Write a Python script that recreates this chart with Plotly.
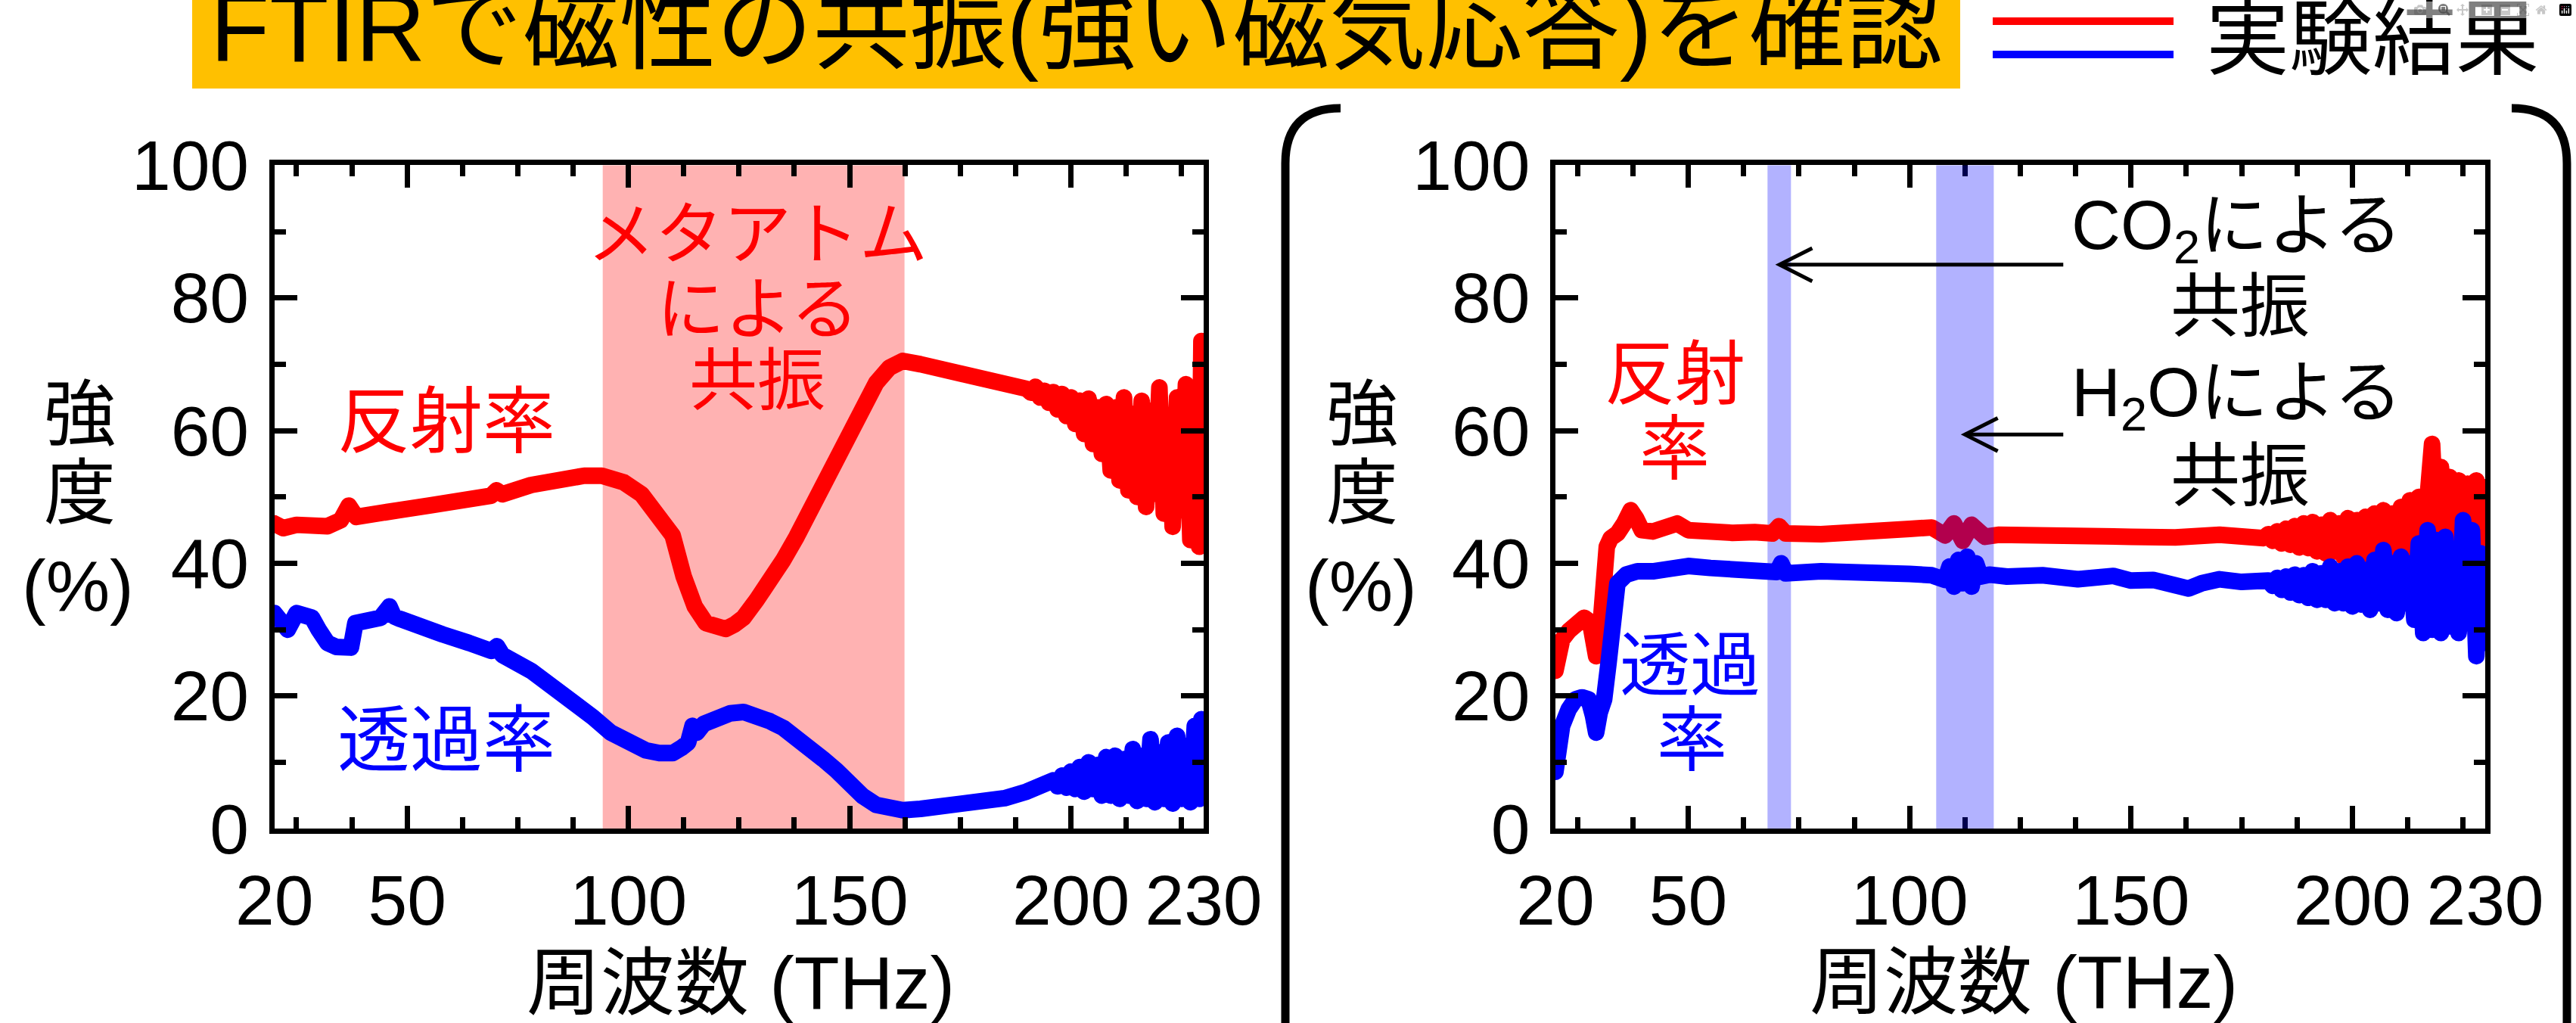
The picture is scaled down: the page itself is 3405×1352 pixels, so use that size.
import plotly.graph_objects as go

W, H = 3405, 1352


def px(x):
    return x / W


def py(y):
    return 1 - y / H


# ---------------- data ----------------
# axis ticks
x_tickvals = [20, 50, 100, 150, 200, 230]
x_ticktext = ["20", "50", "100", "150", "200", "230"]
y_tickvals = [0, 20, 40, 60, 80, 100]

# Left panel: reflectance (反射率)
LR_f = [20, 22, 25, 29, 32, 35, 36.8, 38.5, 42, 48,
        55, 62, 69, 70.2, 71.5, 78, 85, 90, 94, 99,
        103, 107, 110, 112.5, 115, 117.5, 120, 122, 124, 126,
        129, 132, 135, 138, 141, 144, 147, 150, 153, 156,
        159, 162, 166, 170, 175, 180, 185, 189]
LR_v = [46, 45.3, 45.8, 46, 45.6, 46.5, 48.7, 47, 47.5, 48,
        48.7, 49.5, 50.2, 51, 50.4, 51.8, 52.8, 53.2, 53.2, 52.2,
        50.4, 47, 44.2, 38, 33.5, 31.0, 30.2, 30.1, 30.8, 31.8,
        34.5, 37.3, 40.5, 44, 48, 52.5, 56.5, 60.5, 64, 67.2,
        69.5, 70.5, 70, 69.4, 68.7, 68.1, 67, 66.3]
LR_noise_f = [190, 191, 192, 193, 194, 195, 196, 197, 198, 199,
              200, 201, 202, 203, 204, 205, 206, 207, 208, 209,
              210, 211, 212, 213, 214, 215, 216, 217, 218, 219,
              220, 221, 222, 223, 224, 225, 226, 227, 228, 229,
              229.5, 230]
LR_noise_v = [66.3, 65.7, 66.6, 65.0, 66.0, 64.2, 65.8, 63.2, 65.5, 62.2,
              65.0, 61.0, 64.5, 59.5, 64.8, 58.0, 63.5, 56.5, 64.0, 54.0,
              63.5, 52.5, 65.0, 51.0, 62.5, 50.0, 64.5, 48.5, 63.0, 50.5,
              66.5, 47.5, 62.0, 45.5, 65.0, 48.0, 67.0, 43.5, 64.0, 42.5,
              73.5, 50.0]

# Left panel: transmittance (透過率)
LT_f = [20, 21.5, 23, 25, 27, 28.5, 30, 32, 34, 36,
        37.3, 38.3, 40, 42, 44, 46, 47, 48.5, 52, 58,
        64, 69, 70.3, 71.5, 78, 84, 88, 92, 96, 100,
        104, 107, 110, 112, 113.5, 114.5, 115.5, 117, 120, 123,
        126, 129, 132, 135, 138, 141, 144, 147, 150, 153,
        156, 159, 162, 166, 170, 175, 180, 185, 190, 195]
LT_v = [32.5, 31.0, 30.0, 32.5, 32.0, 31.8, 30.0, 28.0, 27.4, 27.3,
        27.3, 31.0, 31.3, 31.4, 31.8, 33.5, 32.0, 31.6, 30.5, 29.3,
        28.0, 26.8, 27.5, 26.2, 23.8, 21.0, 19.0, 16.8, 14.5, 13.0,
        11.8, 11.4, 11.4, 12.2, 13.0, 15.5, 14.5, 15.8, 16.8, 17.4,
        17.6, 17.1, 16.2, 15.2, 13.8, 12.2, 10.5, 8.8, 6.6, 4.9,
        3.6, 3.0, 2.8, 3.0, 3.3, 3.7, 4.0, 4.6, 5.6, 6.5]
LT_noise_f = [196, 197, 198, 199, 200, 201, 202, 203, 204, 205,
              206, 207, 208, 209, 210, 211, 212, 213, 214, 215,
              216, 217, 218, 219, 220, 221, 222, 223, 224, 225,
              226, 227, 228, 229, 229.5, 230]
LT_noise_v = [7.3, 6.4, 8.0, 6.2, 8.6, 6.0, 9.3, 5.6, 10.0, 6.0,
              9.6, 5.0, 10.8, 5.0, 11.0, 4.5, 10.5, 5.0, 12.0, 4.2,
              11.0, 4.5, 13.5, 4.0, 11.5, 4.5, 13.0, 3.8, 14.0, 4.5,
              12.5, 4.0, 15.5, 4.5, 16.5, 6.0]

# Right panel: reflectance
RR_f = [20, 20.5, 21.5, 23, 25, 26.5, 27.8, 28.5, 29.2, 30,
        30.8, 31.6, 32.5, 34, 35.5, 37, 38.2, 39.5, 42, 45,
        47.5, 50, 55, 60, 65, 69, 70.5, 72, 80, 90,
        100, 105, 108, 110, 112, 114, 117, 120, 130, 140,
        150, 160, 170, 180]
RR_v = [23.8, 26.5, 28.5, 29.8, 30.8, 31.8, 31.2, 28.5, 26.0, 29.0,
        37.0, 42.5, 43.8, 44.5, 46.0, 48.0, 46.8, 45.0, 44.8, 45.3,
        46.0, 45.0, 44.6, 44.6, 44.7, 44.5, 45.6, 44.5, 44.4, 44.5,
        45.2, 45.4, 44.2, 46.0, 43.4, 45.8, 44.0, 44.3, 44.0, 44.1,
        44.0, 43.9, 44.3, 43.8]
RR_noise_f = [181, 182, 183, 184, 185, 186, 187, 188, 189, 190,
              191, 192, 193, 194, 195, 196, 197, 198, 199, 200,
              201, 202, 203, 204, 205, 206, 207, 208, 209, 210,
              211, 212, 213, 214, 215, 216, 217, 218, 219, 220,
              221, 222, 223, 224, 225, 226, 227, 228, 229, 229.6,
              230]
RR_noise_v = [44.4, 43.4, 44.8, 43.0, 45.2, 42.8, 45.6, 42.4, 46.0, 42.3,
              46.2, 41.8, 45.8, 41.5, 46.5, 41.8, 46.0, 41.0, 46.8, 41.5,
              46.5, 40.5, 47.0, 41.0, 47.5, 40.5, 48.0, 41.0, 47.5, 41.5,
              48.5, 42.0, 49.5, 40.0, 50.0, 42.0, 56.0, 58.0, 44.0, 54.5,
              41.0, 53.0, 40.0, 52.5, 39.0, 52.0, 38.5, 52.5, 33.0, 51.5,
              31.0]

# Right panel: transmittance
RT_f = [20, 20.6, 21.5, 23, 24.5, 26, 27.5, 28.5, 29.2, 30,
        31, 32, 33, 34, 36, 38.5, 42, 46, 48, 50,
        55, 60, 65, 70, 71, 72, 80, 90, 100, 105,
        108, 109, 110, 111, 112, 113, 114, 115, 116, 118,
        122, 130, 138, 146, 150, 155, 160, 163, 166, 170,
        175, 180]
RT_v = [8.6, 12.0, 15.5, 18.0, 19.5, 19.8, 19.5, 17.0, 14.5, 17.5,
        19.5, 25.0, 33.0, 37.0, 38.3, 38.8, 38.8, 39.5, 39.8, 39.6,
        39.3, 39.0, 38.8, 38.7, 40.0, 38.5, 38.8, 38.9, 38.4, 38.2,
        37.5, 39.5, 36.5, 40.5, 37.0, 41.0, 36.5, 40.0, 38.0, 38.3,
        38.0, 38.2, 37.6, 38.1, 37.4, 37.5, 37.0, 36.2, 37.0, 37.6,
        37.2, 37.0]
RT_noise_f = [181, 182, 183, 184, 185, 186, 187, 188, 189, 190,
              191, 192, 193, 194, 195, 196, 197, 198, 199, 200,
              201, 202, 203, 204, 205, 206, 207, 208, 209, 210,
              211, 212, 213, 214, 215, 216, 217, 218, 219, 220,
              221, 222, 223, 224, 225, 226, 227, 228, 229, 229.6,
              230]
RT_noise_v = [37.4, 36.6, 37.8, 36.0, 38.0, 35.6, 38.3, 35.2, 38.2, 34.8,
              38.8, 34.5, 38.5, 34.5, 39.5, 34.0, 38.8, 34.0, 39.5, 33.5,
              40.0, 33.8, 39.0, 33.0, 40.5, 34.0, 42.0, 33.0, 40.0, 32.5,
              41.0, 34.0, 40.0, 31.5, 43.0, 29.5, 45.0, 30.0, 43.5, 29.5,
              44.0, 30.5, 42.0, 29.5, 46.5, 31.0, 45.0, 26.0, 41.5, 28.0,
              34.0]

# shaded bands (THz)
meta_band = [94.2, 162.4]
co2_band = [67.9, 73.2]
h2o_band = [106.0, 119.0]

for a, b in [(LR_f, LR_v), (LR_noise_f, LR_noise_v), (LT_f, LT_v), (LT_noise_f, LT_noise_v),
             (RR_f, RR_v), (RR_noise_f, RR_noise_v), (RT_f, RT_v), (RT_noise_f, RT_noise_v)]:
    assert len(a) == len(b), (len(a), len(b))

RED = "#FF0000"
BLUE = "#0000FF"
FONT = "Liberation Sans, Arial, Noto Sans CJK JP"
LW = 22

fig = go.Figure()
fig.add_trace(go.Scatter(x=LR_f + LR_noise_f, y=LR_v + LR_noise_v, mode="lines",
                         line=dict(color=RED, width=LW), xaxis="x", yaxis="y", name="反射率"))
fig.add_trace(go.Scatter(x=LT_f + LT_noise_f, y=LT_v + LT_noise_v, mode="lines",
                         line=dict(color=BLUE, width=LW), xaxis="x", yaxis="y", name="透過率"))
fig.add_trace(go.Scatter(x=RR_f + RR_noise_f, y=RR_v + RR_noise_v, mode="lines",
                         line=dict(color=RED, width=LW), xaxis="x2", yaxis="y2", name="反射率"))
fig.add_trace(go.Scatter(x=RT_f + RT_noise_f, y=RT_v + RT_noise_v, mode="lines",
                         line=dict(color=BLUE, width=LW), xaxis="x2", yaxis="y2", name="透過率"))


def xax(domain, anchor):
    return dict(domain=domain, anchor=anchor, range=[20, 230], tickmode="array",
                tickvals=x_tickvals, ticktext=x_ticktext, ticks="inside", ticklen=30,
                tickwidth=7, tickcolor="black", showline=True, linewidth=7, linecolor="black",
                mirror="allticks", showgrid=False, zeroline=False, tickangle=0,
                tickfont=dict(family=FONT, size=93, color="black"), automargin=False,
                ticklabelstandoff=8,
                minor=dict(ticks="inside", ticklen=15, tickwidth=7, tickcolor="black",
                           tickmode="linear", tick0=0, dtick=12.5, showgrid=False))


def yax(domain, anchor):
    return dict(domain=domain, anchor=anchor, range=[0, 100], tickmode="array",
                tickvals=y_tickvals, ticks="inside", ticklen=30, tickwidth=7, tickcolor="black",
                showline=True, linewidth=7, linecolor="black", mirror="allticks",
                showgrid=False, zeroline=False,
                tickfont=dict(family=FONT, size=93, color="black"), automargin=False,
                ticklabelstandoff=8,
                minor=dict(ticks="inside", ticklen=15, tickwidth=7, tickcolor="black",
                           tickmode="linear", tick0=0, dtick=10, showgrid=False))


ydom = [py(1095.3), py(218.3)]
shapes = []
# orange title box
shapes.append(dict(type="rect", xref="paper", yref="paper", x0=px(254), x1=px(2591),
                   y0=py(117), y1=py(0), fillcolor="#FFC000", line=dict(width=0), layer="below"))
# legend lines
shapes.append(dict(type="line", xref="paper", yref="paper", x0=px(2634), x1=px(2873),
                   y0=py(28), y1=py(28), line=dict(color=RED, width=10)))
shapes.append(dict(type="line", xref="paper", yref="paper", x0=px(2634), x1=px(2873),
                   y0=py(72), y1=py(72), line=dict(color=BLUE, width=10)))
# bracket around right panel
shapes.append(dict(type="path", xref="paper", yref="paper",
                   path=f"M {px(1772)},{py(143)} Q {px(1699)},{py(143)} {px(1699)},{py(216)} L {px(1699)},{py(1360)}",
                   line=dict(color="black", width=11)))
shapes.append(dict(type="path", xref="paper", yref="paper",
                   path=f"M {px(3320)},{py(143)} Q {px(3393)},{py(143)} {px(3393)},{py(216)} L {px(3393)},{py(1360)}",
                   line=dict(color="black", width=11)))
# shaded bands
shapes.append(dict(type="rect", xref="x", yref="y", x0=meta_band[0], x1=meta_band[1], y0=0, y1=100,
                   fillcolor="rgba(255,0,0,0.3)", line=dict(width=0), layer="below"))
shapes.append(dict(type="rect", xref="x2", yref="y2", x0=co2_band[0], x1=co2_band[1], y0=0, y1=100,
                   fillcolor="rgba(0,0,255,0.3)", line=dict(width=0), layer="below"))
shapes.append(dict(type="rect", xref="x2", yref="y2", x0=h2o_band[0], x1=h2o_band[1], y0=0, y1=100,
                   fillcolor="rgba(0,0,255,0.3)", line=dict(width=0), layer="above"))
# arrows
for tip_x, tail_x, yv in [(70.6, 134.7, 85.0), (112.5, 134.7, 59.4)]:
    shapes.append(dict(type="line", xref="x2", yref="y2", x0=tail_x, x1=tip_x, y0=yv, y1=yv,
                       line=dict(color="black", width=5)))
    shapes.append(dict(type="path", xref="x2", yref="y2",
                       path=f"M {tip_x + 7.4},{yv + 2.5} L {tip_x},{yv} L {tip_x + 7.4},{yv - 2.5}",
                       line=dict(color="black", width=5)))

annotations = []


def ann(text, x, y, size, color="black", xanchor="center"):
    annotations.append(dict(text=text, x=px(x), y=py(y), xref="paper", yref="paper",
                            xanchor=xanchor, yanchor="middle", showarrow=False,
                            font=dict(family=FONT, size=size, color=color)))


ann("FTIRで磁性の共振(強い磁気応答)を確認", 1423, 36, 128)
ann("実験結果", 2914, 52, 110, xanchor="left")
for cx in (105, 1801):
    ann("強", cx, 548, 95)
    ann("度", cx, 652, 95)
    ann("(%)", cx - 2, 774, 95)
ann("周波数 (THz)", 979, 1299, 98)
ann("周波数 (THz)", 2675, 1298, 98)
ann("反射率", 590, 556, 96, RED)
ann("透過率", 590, 977, 96, BLUE)
ann("メタアトム", 1001, 310, 90, RED)
ann("による", 1001, 409, 90, RED)
ann("共振", 1001, 503, 90, RED)
ann("反射", 2214, 495, 93, RED)
ann("率", 2213, 594, 93, RED)
ann("透過", 2234, 880, 93, BLUE)
ann("率", 2236, 979, 93, BLUE)
ann("CO<sub>2</sub>による", 2956, 305, 90)
ann("共振", 2961, 405, 92)
ann("H<sub>2</sub>Oによる", 2956, 526, 90)
ann("共振", 2961, 629, 92)

fig.update_layout(
    template="none",
    width=W, height=H,
    margin=dict(l=0, r=0, t=0, b=0, pad=0),
    paper_bgcolor="white", plot_bgcolor="rgba(0,0,0,0)",
    showlegend=False,
    xaxis=xax([px(362.7), px(1591)], "y"),
    yaxis=yax(ydom, "x"),
    xaxis2=xax([px(2056), px(3285)], "y2"),
    yaxis2=yax(ydom, "x2"),
    shapes=shapes,
    annotations=annotations,
    font=dict(family=FONT, color="black"),
)

post = ("document.body.style.margin='0';document.body.style.overflow='hidden';"
        "document.querySelectorAll('.js-line').forEach(function(p){p.style.strokeLinejoin='round';"
        "p.style.strokeLinecap='round';});")
fig.write_html("out.html", post_script=post)
